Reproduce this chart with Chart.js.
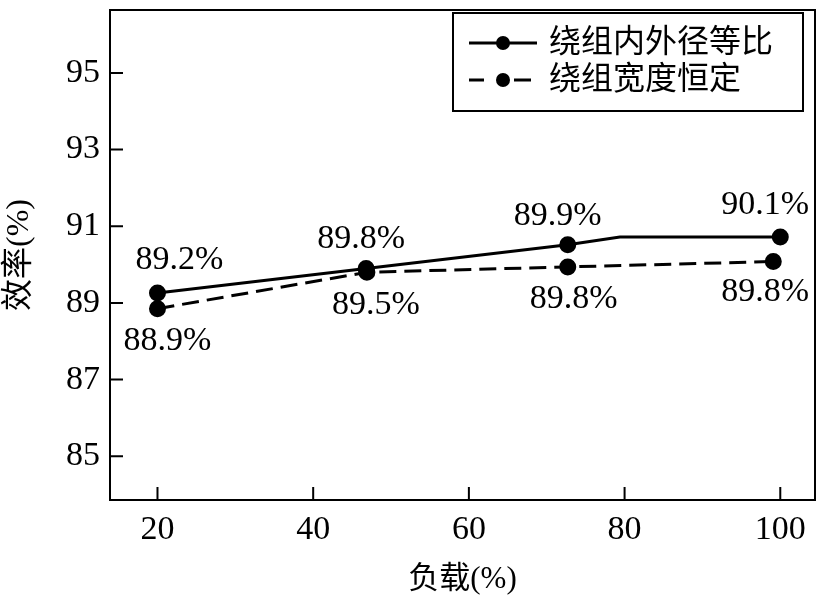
<!DOCTYPE html>
<html>
<head>
<meta charset="utf-8">
<script src="https://cdn.jsdelivr.net/npm/chart.js@4"></script>
<style>
  html, body { margin: 0; padding: 0; background: #fff; }
  canvas { display: block; }
</style>
</head>
<body>
<canvas id="c" width="825" height="598"></canvas>
<script>
// Efficiency vs load for two winding layouts.

const xTicks = [20, 40, 60, 80, 100];
const yTicks = [85, 87, 89, 91, 93, 95];

const solidName = "绕组内外径等比";
const solidX = [20, 46.8, 72.7, 79.4, 100];
const solidY = [89.26, 89.90, 90.52, 90.72, 90.72];
const solidText = ["89.2%", "89.8%", "89.9%", null, "90.1%"];

const dashedName = "绕组宽度恒定";
const dashedX = [20, 46.9, 72.7, 99.1];
const dashedY = [88.85, 89.80, 89.94, 90.08];
const dashedText = ["88.9%", "89.5%", "89.8%", "89.8%"];

// where each value label sits relative to its marker (text centre)
const solidLabelPos = [[22, -33], [-5, -29], [-10, -29], null, [-15, -32]];
const dashedLabelPos = [[10, 32], [9, 33], [6, 32], [-8, 31]];

const FONT = '"Liberation Serif", "Noto Sans CJK SC", serif';
const DASH = [17, 8];
const MARK_R = 7;

function points(xs, ys) {
  return xs.map((x, i) => ({ x, y: ys[i] }));
}

// frame round the plot area, with tick marks pointing inwards
const framePlugin = {
  id: "frame",
  afterDraw(chart) {
    const { ctx, chartArea: a, scales } = chart;
    ctx.save();
    ctx.strokeStyle = "#000";
    ctx.lineWidth = 2;
    ctx.strokeRect(a.left, a.top, a.right - a.left, a.bottom - a.top);
    ctx.beginPath();
    xTicks.forEach(v => {
      const px = scales.x.getPixelForValue(v);
      ctx.moveTo(px, a.bottom);
      ctx.lineTo(px, a.bottom - 13);
    });
    yTicks.forEach(v => {
      const py = scales.y.getPixelForValue(v);
      ctx.moveTo(a.left, py);
      ctx.lineTo(a.left + 13, py);
    });
    ctx.stroke();
    ctx.restore();
  },
};

const valueLabels = {
  id: "valueLabels",
  afterDatasetsDraw(chart) {
    const { ctx } = chart;
    const sets = [[solidText, solidLabelPos], [dashedText, dashedLabelPos]];
    ctx.save();
    ctx.fillStyle = "#000";
    ctx.font = "34px " + FONT;
    ctx.textAlign = "center";
    ctx.textBaseline = "middle";
    sets.forEach(([texts, pos], di) => {
      const meta = chart.getDatasetMeta(di);
      texts.forEach((t, i) => {
        if (!t) return;
        const el = meta.data[i];
        ctx.fillText(t, el.x + pos[i][0], el.y + pos[i][1]);
      });
    });
    ctx.restore();
  },
};

const boxLegend = {
  id: "boxLegend",
  afterDraw(chart) {
    const { ctx } = chart;
    const rows = [[solidName, false], [dashedName, true]];
    ctx.save();
    ctx.strokeStyle = "#000";
    ctx.fillStyle = "#fff";
    ctx.lineWidth = 2;
    ctx.fillRect(453, 13, 350, 98);
    ctx.strokeRect(453, 13, 350, 98);
    ctx.fillStyle = "#000";
    ctx.font = "32px " + FONT;
    ctx.textBaseline = "middle";
    rows.forEach(([name, dashed], i) => {
      const y = 43 + i * 37;
      ctx.lineWidth = 3;
      ctx.beginPath();
      if (dashed) {
        ctx.moveTo(469, y); ctx.lineTo(484, y);
        ctx.moveTo(514, y); ctx.lineTo(531, y);
      } else {
        ctx.moveTo(469, y); ctx.lineTo(537, y);
      }
      ctx.stroke();
      ctx.beginPath();
      ctx.arc(503, y, MARK_R, 0, Math.PI * 2);
      ctx.fill();
      ctx.fillText(name, 549, y + 1);
    });
    ctx.restore();
  },
};

new Chart(document.getElementById("c"), {
  type: "line",
  data: {
    datasets: [
      {
        label: solidName,
        data: points(solidX, solidY),
        borderColor: "#000",
        backgroundColor: "#000",
        borderWidth: 3,
        pointRadius: solidText.map(t => (t ? MARK_R : 0)),
        pointHoverRadius: 0,
        tension: 0,
        fill: false,
      },
      {
        label: dashedName,
        data: points(dashedX, dashedY),
        borderColor: "#000",
        backgroundColor: "#000",
        borderWidth: 3,
        borderDash: DASH,
        pointRadius: MARK_R,
        pointHoverRadius: 0,
        tension: 0,
        fill: false,
      },
    ],
  },
  options: {
    responsive: false,
    animation: false,
    events: [],
    layout: { padding: { top: 1, right: 5, left: 0, bottom: 0 } },
    plugins: { legend: { display: false }, tooltip: { enabled: false } },
    scales: {
      x: {
        type: "linear",
        min: 13.9,
        max: 104.46,
        afterBuildTicks: s => { s.ticks = xTicks.map(v => ({ value: v })); },
        afterFit: s => { s.height = 98; s.paddingLeft = 0; s.paddingRight = 0; },
        grid: { display: false, drawTicks: false },
        border: { display: false },
        ticks: { color: "#000", font: { family: FONT, size: 34 }, padding: 10, maxRotation: 0, autoSkip: false },
        title: { display: true, text: "负载(%)", color: "#000", font: { family: FONT, size: 31 }, padding: { top: 0, bottom: 0 } },
      },
      y: {
        type: "linear",
        min: 83.86,
        max: 96.64,
        afterBuildTicks: s => { s.ticks = yTicks.map(v => ({ value: v })); },
        afterFit: s => { s.width = 110; s.paddingTop = 0; s.paddingBottom = 0; },
        grid: { display: false, drawTicks: false },
        border: { display: false },
        ticks: { color: "#000", font: { family: FONT, size: 34 }, padding: 10, autoSkip: false },
        title: { display: true, text: "效率(%)", color: "#000", font: { family: FONT, size: 32 }, padding: { top: 0, bottom: 0 } },
      },
    },
  },
  plugins: [framePlugin, valueLabels, boxLegend],
});
</script>
</body>
</html>
